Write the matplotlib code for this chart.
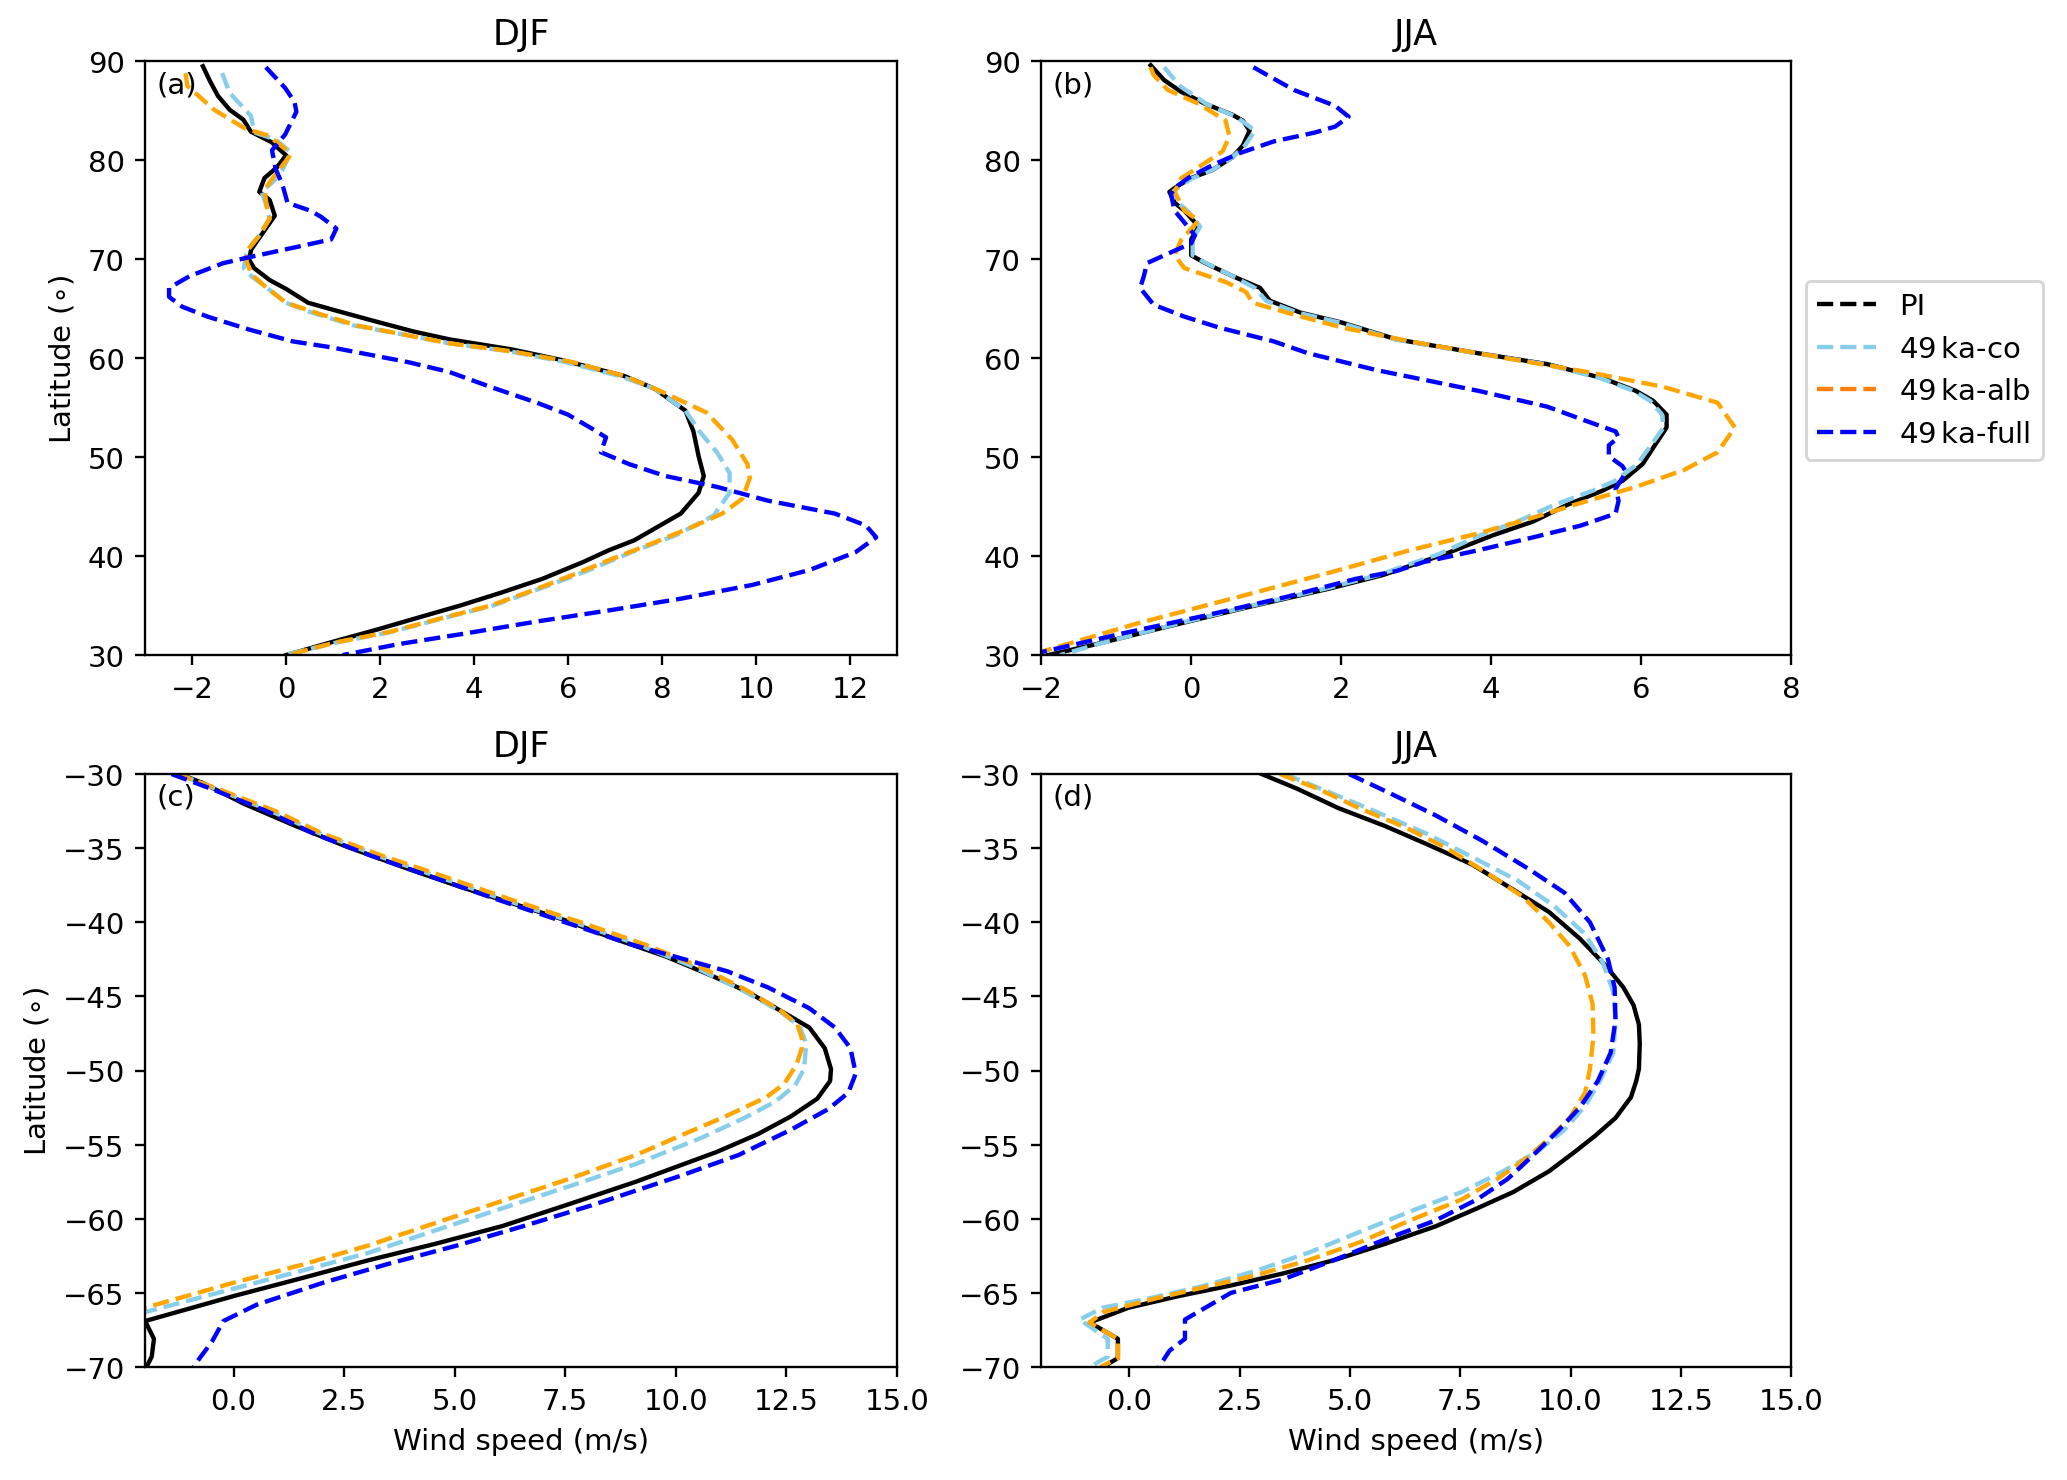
import numpy as np
import matplotlib.pyplot as plt
from matplotlib.lines import Line2D

# ---- (a) DJF, northern hemisphere ----
lat_a_pi = [89.5, 88.0, 86.5, 85.1, 84.1, 82.9, 81.8, 80.5, 79.3, 78.2, 76.8, 76.0, 74.4, 72.9, 71.0, 70.0,
            69.1, 67.9, 67.0, 65.6, 64.8, 63.8, 62.7, 61.9, 60.9, 59.8, 59.0, 58.2, 56.9, 54.7, 52.6, 50.1,
            48.1, 46.4, 44.3, 43.1, 41.6, 40.6, 39.4, 37.7, 36.3, 35.0, 33.8, 32.6, 31.3, 30.0]
u_a_pi = [-1.77, -1.62, -1.45, -1.2, -0.91, -0.75, -0.3, 0.0, -0.19, -0.46, -0.57, -0.35, -0.24, -0.46, -0.74, -0.79,
          -0.68, -0.35, 0.0, 0.47, 1.07, 1.84, 2.71, 3.48, 4.79, 5.88, 6.54, 7.2, 7.85, 8.5, 8.67, 8.78,
          8.89, 8.78, 8.4, 7.96, 7.41, 6.87, 6.32, 5.45, 4.57, 3.70, 2.82, 1.95, 0.96, 0.0]

lat_a_co = [88.8, 86.8, 84.5, 82.8, 82.1, 80.8, 79.0, 78.0, 76.8, 75.3, 74.1, 72.4, 70.8, 69.1, 68.3, 67.3,
            65.6, 64.6, 63.3, 62.3, 61.5, 60.7, 59.6, 58.2, 56.9, 54.7, 52.6, 50.5, 48.4, 46.4, 44.1, 42.1,
            40.5, 38.5, 36.8, 35.0, 33.8, 32.3, 31.3, 30.0]
u_a_co = [-1.36, -1.2, -0.75, -0.67, -0.22, 0.1, -0.08, -0.24, -0.52, -0.41, -0.35, -0.57, -0.84, -0.9, -0.74, -0.46,
          0.0, 0.55, 1.45, 2.6, 3.48, 4.75, 5.95, 7.1, 7.85, 8.5, 8.8, 9.17, 9.44, 9.44, 9.1, 8.29,
          7.4, 6.4, 5.45, 4.4, 3.4, 2.2, 1.1, -0.05]

lat_a_alb = [88.8, 87.5, 85.1, 83.2, 82.5, 81.0, 80.5, 78.6, 77.0, 75.3, 74.1, 72.4, 70.8, 69.8, 68.5, 67.3,
             65.6, 64.6, 63.3, 62.3, 61.5, 60.7, 59.6, 58.2, 56.7, 54.5, 51.8, 49.3, 47.9, 45.8, 44.3, 42.9,
             41.4, 39.8, 38.1, 36.5, 35.0, 33.8, 32.3, 31.3, 30.0]
u_a_alb = [-2.14, -2.1, -1.53, -0.87, -0.38, 0.02, 0.09, -0.22, -0.46, -0.41, -0.35, -0.57, -0.84, -0.84, -0.74, -0.46,
           0.0, 0.63, 1.51, 2.6, 3.48, 4.79, 6.1, 7.2, 7.96, 8.95, 9.49, 9.82, 9.87, 9.71, 9.28, 8.62,
           7.85, 6.98, 6.1, 5.23, 4.35, 3.37, 2.16, 1.07, 0.03]

lat_a_full = [89.4, 87.3, 85.9, 84.9, 82.6, 81.0, 79.1, 77.6, 75.7, 74.9, 74.3, 73.1, 72.0, 71.2, 70.2, 69.6,
              68.3, 67.1, 66.2, 65.2, 64.2, 62.9, 61.7, 61.1, 59.6, 58.6, 57.1, 55.5, 54.3, 52.8, 52.0, 50.5,
              49.3, 48.1, 47.0, 45.6, 44.3, 43.1, 41.9, 40.4, 38.6, 37.1, 35.7, 34.6, 33.4, 32.1, 31.1, 30.0]
u_a_full = [-0.43, -0.02, 0.18, 0.22, -0.02, -0.3, -0.22, -0.08, 0.03, 0.52, 0.74, 1.07, 0.96, 0.19, -0.79, -1.34,
            -2.05, -2.49, -2.49, -2.21, -1.67, -0.79, 0.14, 0.96, 2.6, 3.48, 4.35, 5.34, 6.0, 6.54, 6.81, 6.7,
            7.3, 8.07, 9.17, 10.26, 11.68, 12.34, 12.56, 12.12, 11.14, 9.93, 8.4, 6.98, 5.34, 3.70, 2.38, 1.2]

# ---- (b) JJA, northern hemisphere ----
lat_b_pi = [89.6, 88.1, 86.9, 85.7, 84.6, 84.0, 83.0, 81.5, 80.3, 79.0, 78.2, 77.4, 76.8, 75.7, 74.9, 73.3,
            72.0, 70.4, 69.6, 68.3, 67.1, 65.8, 64.6, 63.6, 61.9, 60.5, 59.4, 58.0, 56.7, 55.7, 54.3, 53.0,
            51.4, 49.3, 47.6, 46.6, 45.2, 43.5, 42.1, 40.2, 38.1, 36.7, 34.8, 32.8, 31.1, 30.0]
u_b_pi = [-0.54, -0.36, -0.13, 0.19, 0.55, 0.69, 0.78, 0.69, 0.55, 0.28, 0.0, -0.18, -0.29, -0.22, -0.09, 0.1,
          0.0, 0.0, 0.19, 0.55, 0.92, 1.05, 1.46, 2.01, 2.74, 3.83, 4.75, 5.48, 5.93, 6.16, 6.34, 6.34,
          6.2, 6.02, 5.75, 5.48, 5.02, 4.56, 4.02, 3.38, 2.56, 1.83, 0.73, -0.36, -1.27, -1.91]

lat_b_co = [89.4, 87.5, 85.7, 84.4, 83.0, 81.5, 80.3, 79.0, 78.2, 77.4, 76.8, 75.7, 74.9, 73.3, 72.0, 70.4,
            69.6, 68.3, 67.1, 65.8, 64.6, 63.6, 61.9, 60.5, 59.4, 58.0, 56.7, 55.7, 54.3, 53.0, 51.4, 49.3,
            47.6, 46.6, 45.2, 43.5, 42.1, 40.2, 38.1, 36.7, 34.8, 32.8, 31.1, 30.0]
u_b_co = [-0.36, -0.15, 0.2, 0.6, 0.85, 0.72, 0.55, 0.28, 0.02, -0.15, -0.25, -0.18, -0.05, 0.12, 0.02, 0.02,
          0.2, 0.55, 0.85, 1.0, 1.42, 1.98, 2.72, 3.8, 4.72, 5.45, 5.9, 6.12, 6.28, 6.3, 6.15, 5.95,
          5.65, 5.35, 4.85, 4.35, 3.85, 3.3, 2.5, 1.78, 0.7, -0.38, -1.25, -1.75]

lat_b_alb = [89.4, 88.6, 87.1, 85.7, 84.0, 82.4, 80.9, 79.5, 78.2, 76.8, 74.9, 73.9, 72.0, 70.4, 69.1, 67.7,
             66.7, 65.6, 64.6, 63.1, 61.7, 60.0, 58.6, 57.1, 55.5, 53.0, 50.5, 48.7, 47.0, 45.6, 44.1, 42.3,
             40.6, 38.3, 35.9, 33.2, 30.0]
u_b_alb = [-0.54, -0.5, -0.31, 0.1, 0.46, 0.51, 0.42, 0.14, -0.13, -0.22, -0.09, 0.1, -0.13, -0.22, -0.09, 0.46,
           0.73, 0.82, 1.28, 2.01, 2.92, 4.2, 5.29, 6.3, 7.02, 7.25, 7.02, 6.57, 5.93, 5.29, 4.65, 3.83,
           2.92, 1.83, 0.64, -0.72, -2.15]

lat_b_full = [89.4, 87.1, 85.5, 84.4, 83.4, 82.8, 81.9, 80.7, 79.5, 78.2, 77.2, 76.6, 74.9, 73.7, 72.4, 71.6,
              71.0, 69.6, 68.3, 67.1, 65.4, 64.2, 63.1, 61.7, 60.5, 58.8, 56.7, 55.1, 53.6, 52.6, 52.0, 51.2,
              50.1, 49.1, 48.5, 46.8, 45.6, 44.3, 43.1, 41.9, 40.6, 39.4, 38.5, 37.7, 35.9, 34.0, 32.2, 30.3]
u_b_full = [0.83, 1.37, 1.92, 2.1, 1.92, 1.65, 1.1, 0.64, 0.28, -0.04, -0.22, -0.27, -0.22, -0.09, 0.05, 0.0,
            -0.18, -0.59, -0.63, -0.68, -0.5, -0.09, 0.37, 1.1, 1.56, 2.47, 3.83, 4.75, 5.29, 5.66, 5.7, 5.57,
            5.57, 5.75, 5.8, 5.66, 5.7, 5.66, 5.2, 4.56, 3.83, 3.1, 2.74, 2.19, 1.28, 0.19, -0.91, -2.0]

# ---- (c) DJF, southern hemisphere ----
lat_c_pi = [-30.0, -30.6, -32.0, -33.5, -34.9, -36.4, -37.6, -38.7, -39.8, -41.1, -42.3, -43.6, -44.7, -45.9,
            -47.1, -48.5, -49.9, -50.7, -51.9, -53.1, -54.3, -55.5, -57.5, -59.0, -60.5, -61.7, -62.8, -64.0,
            -65.2, -66.9, -67.5, -68.1, -69.3, -70.0]
u_c_pi = [-1.22, -0.70, 0.23, 1.40, 2.56, 3.95, 5.12, 6.28, 7.44, 8.6, 9.77, 10.81, 11.63, 12.33,
          13.02, 13.37, 13.51, 13.49, 13.2, 12.6, 11.85, 10.92, 9.1, 7.6, 6.07, 4.55, 3.05, 1.55,
          0.02, -2.0, -1.9, -1.8, -1.85, -1.97]

lat_c_co = [-30.0, -31.0, -32.5, -34.0, -35.5, -37.0, -38.5, -40.0, -41.5, -43.0, -44.5, -45.9, -47.0, -48.2,
            -49.9, -51.0, -52.1, -53.2, -54.5, -56.3, -57.8, -59.3, -60.8, -62.3, -63.5, -64.7, -66.3]
u_c_co = [-1.25, -0.4, 0.85, 1.95, 3.25, 4.7, 6.15, 7.7, 9.15, 10.4, 11.45, 12.3, 12.8, 12.95,
          12.9, 12.7, 12.25, 11.55, 10.61, 9.1, 7.6, 6.07, 4.55, 3.05, 1.55, 0.02, -2.0]

lat_c_alb = [-30.0, -31.0, -32.5, -34.0, -35.5, -37.0, -38.5, -40.0, -41.5, -43.0, -44.5, -45.9, -46.9, -47.8,
             -48.5, -49.6, -50.9, -51.8, -53.1, -54.4, -55.7, -57.3, -58.8, -60.3, -61.8, -63.1, -64.3, -66.0]
u_c_alb = [-1.3, -0.35, 0.95, 2.0, 3.35, 4.85, 6.3, 7.85, 9.3, 10.55, 11.55, 12.35, 12.75, 12.85,
           12.85, 12.73, 12.45, 12.05, 11.12, 10.1, 9.1, 7.6, 6.07, 4.55, 3.05, 1.55, 0.02, -2.0]

lat_c_full = [-30.0, -31.0, -32.5, -34.0, -35.5, -37.0, -38.5, -40.0, -41.5, -43.3, -44.4, -45.8, -47.1, -48.5,
              -50.2, -51.5, -52.6, -54.0, -55.7, -57.1, -59.1, -60.5, -61.8, -63.0, -64.3, -65.8, -66.9, -68.3,
              -69.7, -70.0]
u_c_full = [-1.4, -0.5, 0.75, 1.8, 3.1, 4.55, 6.0, 7.5, 9.0, 11.16, 12.09, 13.02, 13.6, 13.95,
            14.07, 13.9, 13.45, 12.6, 11.42, 10.11, 8.09, 6.55, 5.06, 3.55, 2.04, 0.52, -0.23, -0.49,
            -0.84, -0.9]

# ---- (d) JJA, southern hemisphere ----
lat_d_pi = [-30.0, -31.0, -32.3, -33.5, -34.7, -36.1, -37.8, -39.3, -41.1, -42.9, -44.4, -45.6, -46.9, -48.2,
            -49.9, -50.7, -51.8, -53.2, -54.4, -55.5, -56.8, -58.2, -59.3, -60.5, -61.7, -62.8, -63.7, -64.5,
            -65.2, -66.0, -67.0, -68.1, -69.4, -70.0]
u_d_pi = [3.0, 3.81, 4.74, 5.79, 6.72, 7.77, 8.7, 9.51, 10.21, 10.79, 11.2, 11.43, 11.55, 11.57,
          11.55, 11.49, 11.37, 11.02, 10.56, 10.09, 9.51, 8.7, 7.88, 6.95, 5.79, 4.63, 3.47, 2.3,
          1.14, -0.02, -0.9, -0.26, -0.26, -0.6]

lat_d_co = [-30.0, -31.2, -32.5, -34.0, -35.6, -37.2, -38.9, -40.8, -42.7, -44.7, -46.6, -48.8, -50.7, -52.4,
            -54.0, -55.4, -56.8, -58.2, -59.5, -60.9, -62.3, -63.5, -64.5, -65.3, -66.0, -66.8, -68.1, -69.3,
            -70.0]
u_d_co = [3.52, 4.51, 5.56, 6.72, 7.77, 8.81, 9.63, 10.33, 10.73, 10.97, 11.02, 10.97, 10.67, 10.33,
          9.86, 9.28, 8.47, 7.53, 6.37, 5.21, 4.05, 2.88, 1.72, 0.56, -0.6, -1.13, -0.49, -0.49,
          -0.9]

lat_d_alb = [-30.0, -31.0, -32.3, -33.6, -35.0, -36.7, -38.3, -40.0, -41.6, -43.6, -45.5, -47.7, -49.9, -51.5,
             -53.2, -54.6, -55.8, -57.3, -58.7, -60.1, -61.6, -62.8, -63.8, -64.6, -65.4, -66.3, -67.0, -68.1,
             -69.4, -70.0]
u_d_alb = [3.41, 4.28, 5.21, 6.26, 7.19, 8.12, 8.93, 9.51, 9.98, 10.33, 10.5, 10.52, 10.44, 10.33,
           9.98, 9.51, 9.05, 8.35, 7.53, 6.37, 5.21, 4.05, 2.88, 1.72, 0.56, -0.6, -0.9, -0.26,
           -0.26, -0.66]

lat_d_full = [-30.0, -31.3, -32.8, -34.5, -36.4, -38.0, -40.0, -42.5, -44.4, -46.6, -48.8, -50.7, -52.5, -54.0,
              -55.7, -57.3, -58.7, -60.1, -61.4, -62.8, -64.1, -65.0, -66.8, -68.1, -68.9, -70.0]
u_d_full = [4.98, 5.91, 6.95, 8.0, 9.05, 9.86, 10.44, 10.85, 11.0, 11.02, 10.91, 10.62, 10.21, 9.74,
            9.16, 8.58, 7.88, 6.95, 5.79, 4.63, 3.47, 2.3, 1.26, 1.26, 0.91, 0.67]

labels = ['PI', '49$\\,$ka-co', '49$\\,$ka-alb', '49$\\,$ka-full']

fig = plt.figure(figsize=(9.843, 7.052), dpi=210)
ax_a = fig.add_axes([0.0702, 0.557, 0.3637, 0.401])
ax_b = fig.add_axes([0.5037, 0.557, 0.3628, 0.401])
ax_c = fig.add_axes([0.0702, 0.0763, 0.3637, 0.4004])
ax_d = fig.add_axes([0.5037, 0.0763, 0.3628, 0.4004])

panels = [
    (ax_a, 'DJF', '(a)', (lat_a_pi, u_a_pi), (lat_a_co, u_a_co), (lat_a_alb, u_a_alb), (lat_a_full, u_a_full)),
    (ax_b, 'JJA', '(b)', (lat_b_pi, u_b_pi), (lat_b_co, u_b_co), (lat_b_alb, u_b_alb), (lat_b_full, u_b_full)),
    (ax_c, 'DJF', '(c)', (lat_c_pi, u_c_pi), (lat_c_co, u_c_co), (lat_c_alb, u_c_alb), (lat_c_full, u_c_full)),
    (ax_d, 'JJA', '(d)', (lat_d_pi, u_d_pi), (lat_d_co, u_d_co), (lat_d_alb, u_d_alb), (lat_d_full, u_d_full)),
]

for ax, season, tag, pi, co, alb, full in panels:
    ax.plot(pi[1], pi[0], color='black', lw=1.5)
    ax.plot(co[1], co[0], '--', color='skyblue', lw=1.5)
    ax.plot(alb[1], alb[0], '--', color='orange', lw=1.5)
    ax.plot(full[1], full[0], '--', color='blue', lw=1.5)
    ax.set_title(season)
    ax.text(0.015, 0.985, tag, transform=ax.transAxes, va='top', ha='left')

ax_a.set_xlim(-3, 13)
ax_a.set_ylim(30, 90)
ax_b.set_xlim(-2, 8)
ax_b.set_ylim(30, 90)
ax_c.set_xlim(-2, 15)
ax_c.set_ylim(-70, -30)
ax_d.set_xlim(-2, 15)
ax_d.set_ylim(-70, -30)

ax_a.set_ylabel('Latitude ($\\circ$)')
ax_c.set_ylabel('Latitude ($\\circ$)')
ax_c.set_xlabel('Wind speed (m/s)')
ax_d.set_xlabel('Wind speed (m/s)')

handles = [Line2D([0], [0], color='black', ls='--'),
           Line2D([0], [0], color='skyblue', ls='--'),
           Line2D([0], [0], color='tab:orange', ls='--'),
           Line2D([0], [0], color='blue', ls='--')]
ax_b.legend(handles, labels, loc='center left', bbox_to_anchor=(1.0, 0.48))

fig.savefig('out.png', dpi=210)
